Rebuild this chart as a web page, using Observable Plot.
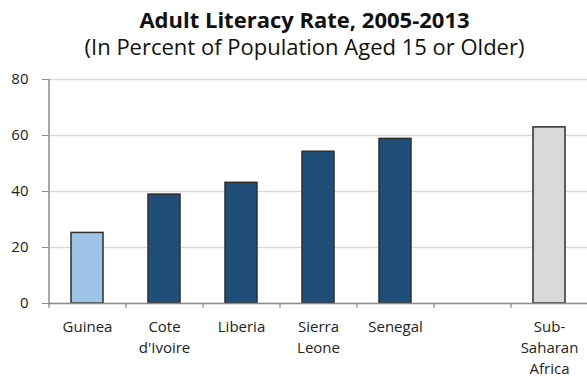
<!DOCTYPE html>
<html>
<head>
<meta charset="utf-8">
<script src="https://cdn.jsdelivr.net/npm/d3@7"></script>
<script src="https://cdn.jsdelivr.net/npm/@observablehq/plot@0.6"></script>
<style>
  html, body { margin: 0; padding: 0; background: #fff; }
  #chart { width: 587px; font-family: "Open Sans", "Noto Sans", sans-serif; color: #111; }
  .head { height: 64px; box-sizing: border-box; padding-top: 6px; padding-left: 22px; text-align: center; }
  .title { font-size: 22px; font-weight: 700; line-height: 27px; }
  .subtitle { font-size: 22px; font-weight: 400; line-height: 27px; }
  svg { display: block; }
</style>
</head>
<body>
<div id="chart">
  <div class="head">
    <div class="title">Adult Literacy Rate, 2005-2013</div>
    <div class="subtitle">(In Percent of Population Aged 15 or Older)</div>
  </div>
</div>
<script>
// Adult literacy, percent of population aged 15+, 2005-2013
const categories = ["Guinea", "Cote d'Ivoire", "Liberia", "Sierra Leone", "Senegal", "", "Sub-Saharan Africa"];
const literacy = [25.2, 38.9, 43.1, 54.2, 58.8, null, 62.9];
const groups = ["focus", "peer", "peer", "peer", "peer", null, "region"];
const tickLabels = ["Guinea", "Cote\nd'Ivoire", "Liberia", "Sierra\nLeone", "Senegal", "", "Sub-\nSaharan\nAfrica"];
const yTicks = [0, 20, 40, 60, 80];

const groupColors = {focus: "#9dc3e6", peer: "#1f4e79", region: "#d9d9d9"};

const rows = categories
  .map((name, i) => ({name, value: literacy[i], group: groups[i]}))
  .filter(d => d.value != null);

const labelOf = new Map(categories.map((c, i) => [c, tickLabels[i]]));

const width = 587;
const marginLeft = 48;
const marginRight = 0;
const step = (width - marginLeft - marginRight) / categories.length;

const chart = Plot.plot({
  width,
  height: 315,
  marginTop: 15,
  marginBottom: 76,
  marginLeft,
  marginRight,
  style: {fontFamily: "'Open Sans', 'Noto Sans', sans-serif", color: "#222", background: "#fff"},
  x: {domain: categories, paddingInner: 0.585, paddingOuter: 0.2925, align: 0.5},
  y: {domain: [0, 80]},
  marks: [
    Plot.gridY(yTicks, {stroke: "#d9d9d9", strokeOpacity: 1, strokeWidth: 1.5}),
    Plot.barY(rows, {
      x: "name",
      y: "value",
      fill: d => groupColors[d.group],
      stroke: "#2e2e2e",
      strokeWidth: 1.5
    }),
    // category separators below the baseline
    Plot.ruleX(categories, {x: d => d, y1: 0, y2: 0, dx: -step / 2, insetBottom: -5, stroke: "#8c8c8c", strokeWidth: 1.2}),
    Plot.ruleY([0], {stroke: "#8c8c8c", strokeWidth: 1.5}),
    Plot.ruleX([0], {x: () => categories[0], dx: -step / 2, y1: 0, y2: 80, stroke: "#8c8c8c", strokeWidth: 1.5}),
    Plot.axisY(yTicks, {
      tickSize: 6,
      tickPadding: 14,
      stroke: "#8c8c8c",
      fontSize: 15,
      fill: "#222",
      label: null
    }),
    Plot.axisX({
      tickSize: 0,
      tickPadding: 14,
      fontSize: 15,
      lineHeight: 1.4,
      fill: "#222",
      tickFormat: d => labelOf.get(d),
      label: null
    })
  ]
});

document.getElementById("chart").appendChild(chart);
</script>
</body>
</html>
